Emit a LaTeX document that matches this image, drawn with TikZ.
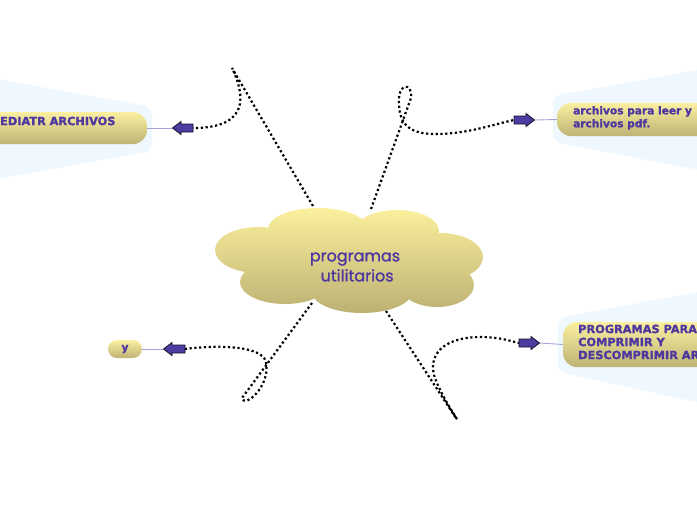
\documentclass[tikz,border=0pt]{standalone}
\usepackage{fontspec}
\setmainfont{DejaVu Sans}[BoldFeatures={FakeBold=1.5}]
\newfontfamily\cloudfont{Poppins}[FakeBold=1.2]
\definecolor{pillTop}{HTML}{FBF0A0}
\definecolor{pillBot}{HTML}{BDB374}
\definecolor{cloudTop}{HTML}{FBF09C}
\definecolor{cloudBot}{HTML}{BCB173}
\definecolor{txt}{HTML}{4F37A0}
\definecolor{halo}{HTML}{EEF8FE}
\definecolor{arrowfill}{HTML}{4E3CA0}
\definecolor{linkline}{HTML}{A9A3DA}
\begin{document}
\begin{tikzpicture}[x=1pt,y=-1pt,
  dots/.style={line width=2.2pt, dash pattern=on 2.2pt off 2.6pt, black},
  link/.style={draw=linkline, line width=0.9pt},
  arr/.style={fill=arrowfill, draw=black!75!arrowfill, line width=0.8pt, line join=miter},
  pill/.style={rectangle, rounded corners=#1, top color=pillTop, bottom color=pillBot, inner sep=0pt, draw=none},
  pill/.default=14pt,
  halofill/.style={fill=halo, rounded corners=8pt},
  nodetext/.style={text=txt, font=\bfseries\fontsize{10.6}{13}\selectfont, inner sep=0pt, align=left},
  capstext/.style={nodetext, font=\bfseries\fontsize{11.3}{13}\selectfont},
  cloudtext/.style={text=txt, font=\cloudfont\fontsize{16}{20}\selectfont, inner sep=0pt, align=center}]
\useasboundingbox (0,0) rectangle (697,520);
\clip (0,0) rectangle (697,520);

% halos
\path[halofill] (-20,76) -- (152,107) -- (152,151) -- (-20,182) -- cycle;
\path[halofill] (553,96) -- (720,66) -- (720,174) -- (553,142) -- cycle;
\path[halofill] (558,318) -- (720,288) -- (720,407) -- (558,372) -- cycle;

% cloud
\shade[top color=cloudTop, bottom color=cloudBot]
  (258,250) ellipse [x radius=43pt, y radius=23pt]
  (318,229) ellipse [x radius=50pt, y radius=21pt]
  (397,231) ellipse [x radius=42pt, y radius=21pt]
  (440,257) ellipse [x radius=43pt, y radius=24pt]
  (285,282) ellipse [x radius=45pt, y radius=22pt]
  (362,292) ellipse [x radius=50pt, y radius=21pt]
  (437,285) ellipse [x radius=37pt, y radius=22pt]
  (350,262) ellipse [x radius=90pt, y radius=36pt];
\node[cloudtext] (cloud) at (355,267) {programas\\\ utilitarios};

% topic nodes
\node[pill, minimum width=177pt, minimum height=32pt] (n1) at (58.5,128) {};
\node[capstext, anchor=west] (t1) at (0,121) {EDIATR ARCHIVOS};
\node[pill, minimum width=163pt, minimum height=33pt] (n2) at (638.5,119.5) {};
\node[nodetext, anchor=north west] (t2) at (573,106) {archivos para leer y\\archivos pdf.};
\node[pill, minimum width=157pt, minimum height=45pt] (n3) at (641.5,344.5) {};
\node[capstext, anchor=north west] (t3) at (578,324.5) {PROGRAMAS PARA\\COMPRIMIR Y\\DESCOMPRIMIR AR};
\node[pill=9pt, minimum width=34pt, minimum height=18pt] (n4) at (125,349) {};
\node[nodetext] (t4) at (125,349) {y};

% connector anchor points
\coordinate (s1) at (313,206);
\coordinate (p1) at (232,68);
\coordinate (e1) at (193,128);
\coordinate (h1) at (172,128);
\coordinate (s2) at (371,209);
\coordinate (p2) at (411,98);
\coordinate (e2) at (514,120);
\coordinate (h2) at (535,120);
\coordinate (s3) at (312,303);
\coordinate (p3) at (242,398);
\coordinate (e3) at (185,349);
\coordinate (h3) at (163,349);
\coordinate (s4) at (386,311);
\coordinate (p4) at (456,418);
\coordinate (e4) at (519,343);
\coordinate (h4) at (540,343);

% dotted connectors
\draw[dots] (s1) -- (p1) .. controls (245,95) and (250,128) .. (e1);
\draw[dots] (s2) -- (p2) .. controls (413,82) and (397,82) .. (399,105)
  .. controls (400,125) and (410,135) .. (440,134)
  .. controls (470,133) and (495,124) .. (e2);
\draw[dots] (s3) -- (p3) .. controls (244,409) and (271,386) .. (266,362)
  .. controls (262,345) and (215,345) .. (e3);
\draw[dots] (s4) -- (p4) .. controls (462,426) and (440,395) .. (434,375)
  .. controls (428,350) and (450,337) .. (480,337)
  .. controls (500,337) and (510,341) .. (e4);

% block arrows
\draw[arr] (e1) ++(0,-4) -- ++(-12,0) -- ++(0,-2.5) -- ++(-8.5,6.5) -- ++(8.5,6.5) -- ++(0,-2.5) -- ++(12,0) -- cycle;
\draw[arr] (e2) ++(0,-4) -- ++(12,0) -- ++(0,-2.5) -- ++(8.5,6.5) -- ++(-8.5,6.5) -- ++(0,-2.5) -- ++(-12,0) -- cycle;
\draw[arr] (e3) ++(0,-4) -- ++(-13,0) -- ++(0,-2.5) -- ++(-8.5,6.5) -- ++(8.5,6.5) -- ++(0,-2.5) -- ++(13,0) -- cycle;
\draw[arr] (e4) ++(0,-4) -- ++(12,0) -- ++(0,-2.5) -- ++(8.5,6.5) -- ++(-8.5,6.5) -- ++(0,-2.5) -- ++(-12,0) -- cycle;

% thin links to topics
\draw[link] (h1) -- (n1.east);
\draw[link] (h2) -- (n2.west);
\draw[link] (h3) -- (n4.east);
\draw[link] (h4) -- (n3.west);
\end{tikzpicture}
\end{document}
